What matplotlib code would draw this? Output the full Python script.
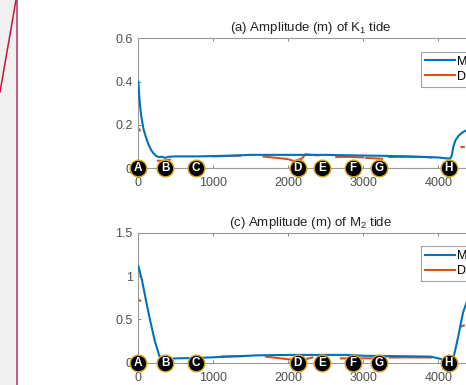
import numpy as np
import matplotlib
matplotlib.use("Agg")
import matplotlib.pyplot as plt
from matplotlib.patches import Rectangle
from matplotlib.lines import Line2D

plt.rcParams['font.family'] = ['Liberation Sans', 'DejaVu Sans']
plt.rcParams['mathtext.fontset'] = 'custom'
plt.rcParams['mathtext.rm'] = 'Liberation Sans'
plt.rcParams['mathtext.it'] = 'Liberation Sans'

# ---- data ----
stations = [0, 360, 770, 2124, 2449, 2858, 3204, 4140]
station_labels = ['A', 'B', 'C', 'D', 'E', 'F', 'G', 'H']

k1_model_x = [0, 20, 40, 70, 100, 135, 170, 200, 235, 270, 320, 360, 400, 500, 800, 1200,
              1500, 2000, 2500, 2800, 3200, 3600, 4000, 4100, 4160, 4180, 4200, 4230, 4270,
              4320, 4400, 4500, 4600]
k1_model_y = [0.40, 0.30, 0.24, 0.18, 0.145, 0.11, 0.085, 0.07, 0.058, 0.052, 0.053, 0.048,
              0.053, 0.055, 0.055, 0.058, 0.062, 0.062, 0.062, 0.060, 0.058, 0.055, 0.050,
              0.046, 0.045, 0.060, 0.100, 0.130, 0.150, 0.165, 0.180, 0.190, 0.200]

k1_data_x = [12, 22, np.nan, 260, 340, 420, np.nan, 1000, 1200, 1360, np.nan, 1670, 1850, 2000,
             2080, 2180, 2230, 2300, 2400, np.nan, 2640, 2800, 3000, np.nan, 3040, 3250,
             np.nan, 3340, 3560, 3780, np.nan, 3830, 3900, np.nan, 4310, 4340]
k1_data_y = [0.18, 0.175, np.nan, 0.035, 0.035, 0.04, np.nan, 0.055, 0.057, 0.058, np.nan, 0.054,
             0.048, 0.042, 0.033, 0.045, 0.065, 0.062, 0.060, np.nan, 0.052, 0.053, 0.050,
             np.nan, 0.048, 0.044, np.nan, 0.052, 0.053, 0.052, np.nan, 0.052, 0.050,
             np.nan, 0.098, 0.099]

m2_model_x = [0, 50, 111, 160, 220, 280, 311, 360, 500, 800, 1200, 1600, 2000, 2400, 2800,
              3000, 3500, 3900, 4050, 4150, 4200, 4240, 4270, 4300, 4330, 4400, 4500, 4600]
m2_model_y = [1.115, 0.95, 0.68, 0.48, 0.25, 0.08, 0.03, 0.04, 0.05, 0.055, 0.07, 0.085,
              0.09, 0.09, 0.09, 0.08, 0.075, 0.07, 0.04, 0.02, 0.05, 0.20, 0.32, 0.45, 0.58,
              0.75, 0.90, 1.00]

m2_data_x = [18, 26, np.nan, 1100, 1250, 1400, np.nan, 1700, 1850, 2000, 2150, 2250, 2320,
             np.nan, 2700, 3000, 3300, np.nan, 3350, 3600, 3900, np.nan, 4310, 4340]
m2_data_y = [0.72, 0.715, np.nan, 0.07, 0.075, 0.075, np.nan, 0.07, 0.055, 0.04, 0.03, 0.045,
             0.06, np.nan, 0.05, 0.05, 0.052, np.nan, 0.06, 0.062, 0.06, np.nan, 0.42, 0.43]

blue = '#0072BD'
orange = '#D95319'
W, H = 466, 385

fig = plt.figure(figsize=(W / 100, H / 100), dpi=100)

# left grey strip with crimson lines
fig.patches.append(Rectangle((0, 0), 16.5 / W, 1, transform=fig.transFigure,
                             facecolor='#f0f0f0', edgecolor='none', zorder=0))
fig.lines.append(Line2D([16.8 / W, 16.8 / W], [0, 1], transform=fig.transFigure,
                        color='#cc4a6e', lw=1.3))
fig.lines.append(Line2D([0, 16.0 / W], [1 - 92 / H, 1], transform=fig.transFigure,
                        color='#c8143c', lw=1.1))

ax_left = 138.3
ax_right = 483.3
ax_w = (ax_right - ax_left) / W
ax_h = 130 / H


def setup(ax, xs, ys, dx, dy, ylim, yticks, ytlabels, title):
    ax.plot(xs, ys, color=blue, lw=1.5, label='Model', zorder=3)
    ax.plot(dx, dy, color=orange, lw=1.5, label='Data', zorder=2)
    ax.set_xlim(0, 4600)
    ax.set_ylim(*ylim)
    ax.set_xticks([0, 1000, 2000, 3000, 4000])
    ax.set_xticklabels(['0', '1000', '2000', '3000', '4000'])
    ax.set_yticks(yticks)
    ax.set_yticklabels(ytlabels)
    for s in ax.spines.values():
        s.set_color('#999999')
        s.set_linewidth(0.8)
    ax.tick_params(direction='in', length=2.5, width=0.7, color='#888888',
                   labelsize=9, labelcolor='#505050', top=True, right=False)
    ax.tick_params(axis='x', pad=6.5)
    ax.tick_params(axis='y', pad=4)
    ax.set_title(title, fontsize=9.5, color='#222222', pad=5)
    leg = ax.legend(loc='upper left', bbox_to_anchor=(0.8194, 0.895), fontsize=9,
                    frameon=True, fancybox=False, edgecolor='#8c8c8c',
                    handlelength=2.4, handletextpad=0.2, borderpad=0.3,
                    labelspacing=0.25, borderaxespad=0)
    leg.get_frame().set_linewidth(0.8)
    for x, lab in zip(stations, station_labels):
        ax.plot([x], [ylim[0]], marker='o', ms=12, mfc='black', mec='#d9a520',
                mew=1.0, clip_on=False, zorder=10)
        ax.text(x, ylim[0], lab, color='white', fontsize=8.5, fontweight='bold',
                ha='center', va='center', zorder=11, clip_on=False)


ax1 = fig.add_axes([ax_left / W, 1 - 168.3 / H, ax_w, ax_h])
setup(ax1, k1_model_x, k1_model_y, k1_data_x, k1_data_y, (0, 0.6),
      [0, 0.2, 0.4, 0.6], ['0', '0.2', '0.4', '0.6'],
      r'(a) Amplitude (m) of K$_1$ tide')

ax2 = fig.add_axes([ax_left / W, 1 - 362.7 / H, ax_w, ax_h])
setup(ax2, m2_model_x, m2_model_y, m2_data_x, m2_data_y, (0, 1.5),
      [0, 0.5, 1, 1.5], ['0', '0.5', '1', '1.5'],
      r'(c) Amplitude (m) of M$_2$ tide')

fig.savefig('out.png', dpi=100)
